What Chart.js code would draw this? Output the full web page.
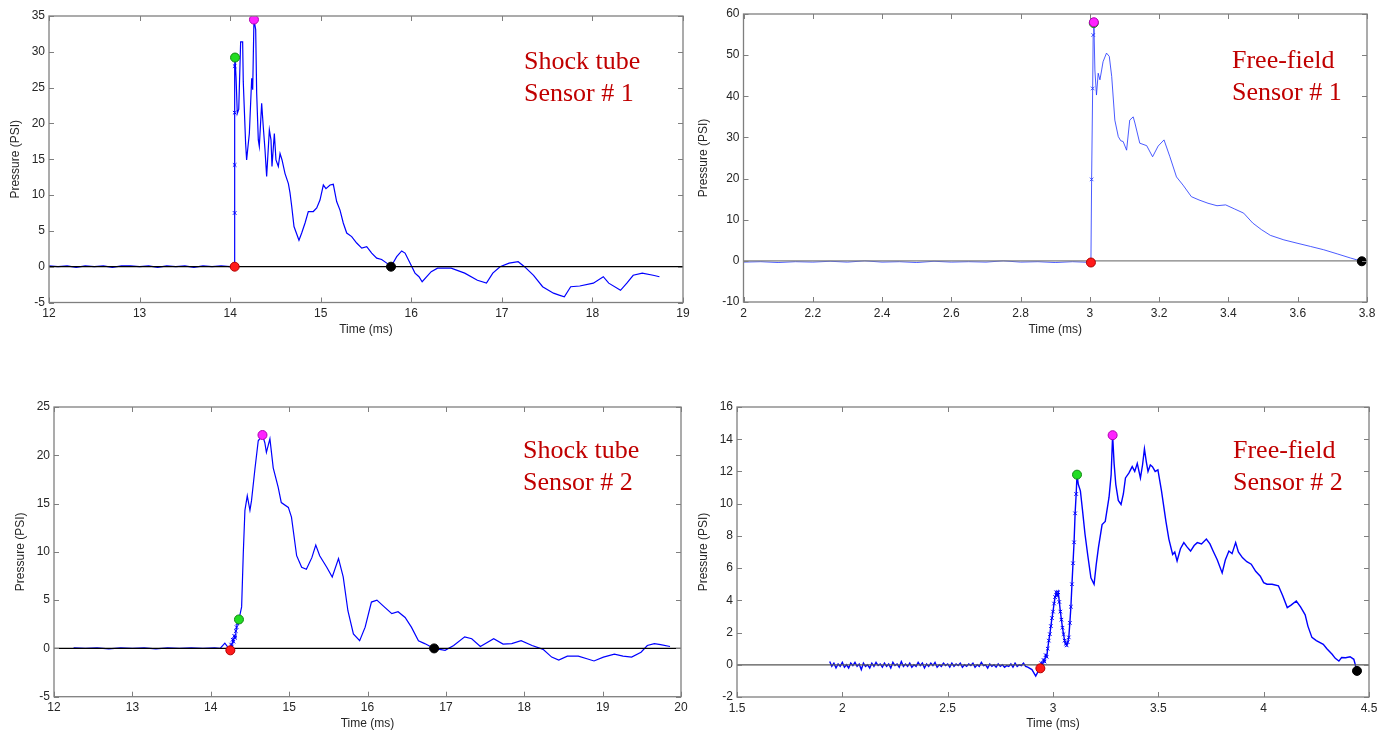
<!DOCTYPE html>
<html>
<head>
<meta charset="utf-8">
<title>Pressure traces</title>
<script src="https://cdn.jsdelivr.net/npm/chart.js@4.4.1/dist/chart.umd.min.js"></script>
<style>
  html, body { margin: 0; padding: 0; background: #fff; }
  #page { position: relative; width: 1393px; height: 732px; overflow: hidden; }
  canvas { position: absolute; }
  .tag {
    position: absolute;
    font-family: "Liberation Serif", "Times New Roman", serif;
    font-size: 26px;
    line-height: 32px;
    color: #c00000;
    white-space: nowrap;
  }
</style>
</head>
<body>
<div id="page">
  <canvas id="shockTube1" width="700" height="345" style="left:0;top:0"></canvas>
  <canvas id="freeField1" width="703" height="345" style="left:690px;top:0"></canvas>
  <canvas id="shockTube2" width="700" height="342" style="left:0;top:390px"></canvas>
  <canvas id="freeField2" width="703" height="342" style="left:690px;top:390px"></canvas>

  <div class="tag" style="left:524px;top:45px">Shock tube<br>Sensor # 1</div>
  <div class="tag" style="left:1232px;top:44px">Free-field<br>Sensor # 1</div>
  <div class="tag" style="left:523px;top:434px">Shock tube<br>Sensor # 2</div>
  <div class="tag" style="left:1233px;top:434px">Free-field<br>Sensor # 2</div>
</div>

<script>
// [time (ms), pressure (PSI)]
var shockTube1Wave = [
  [12.00,0.1],[12.10,0.0],[12.20,0.1],[12.30,-0.1],[12.40,0.1],[12.50,0.0],[12.60,0.1],[12.70,-0.1],
  [12.80,0.1],[12.90,0.1],[13.00,0.0],[13.10,0.1],[13.20,-0.1],[13.30,0.1],[13.40,0.0],[13.50,0.1],
  [13.60,-0.1],[13.70,0.1],[13.80,0.0],[13.90,0.1],[14.00,0.0],
  [14.050,0.0],[14.050,7.5],[14.050,14.2],[14.050,21.5],[14.050,28.0],[14.054,29.2],
  [14.065,26.5],[14.079,21.4],[14.095,22.0],[14.116,31.4],[14.138,31.4],[14.145,25.8],[14.171,17.2],
  [14.182,14.9],[14.193,16.3],[14.212,18.6],[14.238,26.3],[14.249,24.7],[14.263,34.5],[14.282,33.1],
  [14.293,24.2],[14.311,17.7],[14.322,16.8],[14.348,22.8],[14.366,19.5],[14.385,16.3],[14.403,12.6],
  [14.433,19.1],[14.451,17.7],[14.462,14.0],[14.488,18.6],[14.506,14.9],[14.532,14.0],[14.551,15.8],
  [14.573,14.9],[14.606,13.0],[14.643,11.6],[14.661,10.3],[14.680,8.4],[14.705,5.6],[14.760,3.7],
  [14.790,4.7],[14.827,6.1],[14.863,7.7],[14.918,7.7],[14.956,8.2],[14.992,9.3],[15.029,11.4],
  [15.058,10.9],[15.103,11.4],[15.139,11.5],[15.176,9.1],[15.213,7.9],[15.249,6.1],[15.287,4.7],
  [15.342,4.2],[15.397,3.3],[15.453,2.6],[15.508,2.8],[15.563,1.9],[15.618,1.2],[15.673,1.0],
  [15.729,0.5],[15.776,0.0],[15.839,1.4],[15.894,2.2],[15.931,1.9],[15.986,0.5],[16.041,-0.9],
  [16.085,-1.4],[16.12,-2.1],[16.22,-0.7],[16.29,-0.2],[16.44,-0.2],[16.59,-0.9],[16.73,-1.9],
  [16.83,-2.3],[16.90,-0.9],[16.98,0.0],[17.08,0.5],[17.18,0.7],[17.25,0.0],[17.35,-1.2],
  [17.45,-2.8],[17.57,-3.7],[17.64,-4.0],[17.69,-4.2],[17.76,-2.8],[17.86,-2.7],[18.01,-2.3],
  [18.12,-1.4],[18.18,-2.3],[18.31,-3.3],[18.38,-2.3],[18.45,-1.2],[18.55,-0.9],[18.67,-1.2],[18.74,-1.4]
];
// onset, first peak, max, return to zero
var shockTube1Events = [[14.050,0.0],[14.054,29.2],[14.263,34.5],[15.776,0.0]];

var freeField1Wave = [
  [2.00,-0.3],[2.05,-0.2],[2.10,-0.4],[2.15,-0.2],[2.20,-0.3],[2.25,-0.1],[2.30,-0.3],[2.35,0.0],
  [2.40,-0.3],[2.45,-0.2],[2.50,-0.4],[2.55,-0.1],[2.60,-0.3],[2.65,-0.2],[2.70,-0.3],[2.75,0.0],
  [2.80,-0.3],[2.85,-0.2],[2.90,-0.4],[2.95,-0.2],[2.98,-0.3],
  [3.003,-0.4],[3.005,19.8],[3.008,41.9],[3.0095,54.9],[3.0115,58.0],
  [3.0144,46.4],[3.019,40.3],[3.024,45.6],[3.029,44.0],[3.034,46.4],[3.038,48.4],[3.048,50.5],
  [3.056,49.7],[3.063,44.8],[3.072,34.2],[3.082,30.2],[3.089,29.2],[3.096,29.0],[3.106,26.9],
  [3.115,34.2],[3.125,35.0],[3.130,33.5],[3.144,28.6],[3.164,28.0],[3.181,25.3],[3.197,27.9],
  [3.214,29.4],[3.231,25.3],[3.250,20.4],[3.269,18.4],[3.293,15.6],[3.315,14.8],[3.341,14.0],
  [3.367,13.4],[3.392,13.6],[3.418,12.6],[3.444,11.6],[3.470,9.2],[3.495,7.6],[3.521,6.2],
  [3.560,5.1],[3.598,4.3],[3.637,3.5],[3.675,2.7],[3.714,1.7],[3.752,0.7],[3.785,-0.1]
];
var freeField1Events = [[3.003,-0.4],[3.0112,57.8],[3.0115,58.0],[3.785,-0.1]];

var shockTube2Wave = [
  [12.25,0.05],[12.40,0.0],[12.55,0.05],[12.70,-0.05],[12.85,0.05],[13.00,0.0],[13.15,0.05],
  [13.30,-0.05],[13.45,0.05],[13.60,0.0],[13.75,0.05],[13.90,0.0],[14.05,0.05],[14.12,0.0],
  [14.18,0.55],[14.22,0.1],
  [14.25,-0.2],[14.26,0.4],[14.27,0.2],[14.28,0.9],[14.29,0.7],[14.30,1.3],[14.31,1.1],[14.32,1.8],
  [14.33,2.2],[14.34,2.6],[14.35,2.8],[14.36,3.0],
  [14.394,4.3],[14.415,9.8],[14.436,14.3],[14.466,15.8],[14.50,14.3],[14.52,15.3],[14.564,18.6],
  [14.606,21.5],[14.66,22.1],[14.69,21.3],[14.71,20.3],[14.755,21.7],[14.797,18.7],[14.86,16.7],
  [14.90,15.1],[14.99,14.6],[15.03,13.6],[15.096,9.6],[15.16,8.4],[15.22,8.2],[15.29,9.4],
  [15.34,10.7],[15.39,9.6],[15.48,8.4],[15.55,7.4],[15.63,9.3],[15.69,7.4],[15.75,3.9],[15.82,1.5],
  [15.90,0.8],[15.97,2.2],[16.05,4.8],[16.12,5.0],[16.20,4.4],[16.31,3.6],[16.39,3.8],[16.48,3.2],
  [16.56,2.2],[16.65,0.8],[16.73,0.5],[16.85,0.0],[16.99,-0.2],[17.10,0.3],[17.24,1.2],[17.33,1.0],
  [17.44,0.2],[17.61,1.0],[17.73,0.45],[17.84,0.5],[17.96,0.8],[18.10,0.3],[18.24,-0.1],[18.35,-0.9],
  [18.44,-1.2],[18.55,-0.8],[18.69,-0.8],[18.81,-1.1],[18.89,-1.3],[19.01,-0.9],[19.15,-0.6],
  [19.26,-0.8],[19.37,-0.9],[19.49,-0.4],[19.57,0.3],[19.66,0.5],[19.74,0.4],[19.86,0.2]
];
var shockTube2Events = [[14.25,-0.2],[14.36,3.0],[14.66,22.1],[16.85,0.0]];

var freeField2Wave = [
  [1.940,0.2],[1.950,-0.1],[1.960,0.1],[1.970,-0.2],[1.980,0.05],[1.990,-0.1],[2.000,0.15],
  [2.010,-0.15],[2.020,0.0],[2.030,-0.2],[2.040,0.1],[2.050,-0.05],[2.060,0.15],[2.070,-0.1],
  [2.080,0.05],[2.090,-0.3],[2.100,0.1],[2.110,-0.1],[2.120,0.0],[2.130,-0.2],[2.140,0.1],
  [2.150,-0.1],[2.160,0.15],[2.170,-0.05],[2.180,0.05],[2.190,-0.15],[2.200,0.1],[2.210,-0.1],
  [2.220,0.05],[2.230,-0.2],[2.240,0.15],[2.250,-0.05],[2.260,0.05],[2.270,-0.15],[2.280,0.2],
  [2.290,-0.1],[2.300,0.05],[2.310,-0.1],[2.320,0.1],[2.330,-0.15],[2.340,0.0],[2.350,-0.1],
  [2.360,0.15],[2.370,-0.05],[2.380,0.1],[2.390,-0.2],[2.400,0.05],[2.410,-0.1],[2.420,0.1],
  [2.430,-0.05],[2.440,0.15],[2.450,-0.15],[2.460,0.0],[2.470,-0.1],[2.480,0.1],[2.490,-0.05],
  [2.500,0.05],[2.510,-0.15],[2.520,0.1],[2.530,-0.1],[2.540,0.05],[2.550,-0.05],[2.560,0.1],
  [2.570,-0.15],[2.580,0.0],[2.590,-0.1],[2.600,0.05],[2.610,-0.05],[2.620,0.1],[2.630,-0.15],
  [2.640,0.0],[2.650,-0.1],[2.660,0.15],[2.670,-0.05],[2.680,0.0],[2.690,-0.2],[2.700,0.05],
  [2.710,-0.1],[2.720,0.0],[2.730,-0.15],[2.740,0.05],[2.750,-0.1],[2.760,0.0],[2.770,-0.15],
  [2.780,-0.05],[2.790,-0.1],[2.800,0.05],[2.810,-0.15],[2.820,0.1],[2.830,-0.1],[2.840,0.0],
  [2.850,-0.05],[2.860,0.1],[2.870,-0.1],[2.880,-0.15],[2.900,-0.3],[2.918,-0.7],[2.930,-0.4],
  [2.940,-0.22],[2.945,0.1],[2.950,-0.1],[2.955,0.3],[2.960,0.2],[2.965,0.6],[2.970,0.5],
  [2.975,1.0],[2.980,1.5],[2.985,1.9],[2.990,2.4],[2.995,2.9],[3.000,3.3],[3.005,3.8],[3.010,4.2],
  [3.015,4.5],[3.020,4.3],[3.025,4.5],[3.030,3.9],[3.035,3.3],[3.040,2.8],[3.045,2.3],[3.050,1.9],
  [3.055,1.5],[3.060,1.3],[3.065,1.2],[3.070,1.4],[3.075,1.7],[3.080,2.6],[3.085,3.6],[3.090,5.0],
  [3.095,6.3],[3.100,7.6],[3.105,9.4],[3.110,10.6],[3.114,11.8],
  [3.120,11.2],[3.130,10.8],[3.140,9.6],[3.152,8.1],[3.165,6.8],[3.180,5.4],[3.195,5.0],[3.205,6.2],
  [3.216,7.3],[3.233,8.7],[3.248,8.9],[3.266,10.4],[3.276,11.8],[3.283,14.25],[3.290,12.5],
  [3.298,11.2],[3.310,10.2],[3.323,9.95],[3.334,10.6],[3.344,11.6],[3.360,11.9],[3.376,12.3],
  [3.388,12.0],[3.400,12.5],[3.415,11.6],[3.425,12.4],[3.434,13.4],[3.443,12.6],[3.451,12.0],
  [3.462,12.4],[3.472,12.3],[3.485,12.0],[3.498,12.1],[3.515,10.8],[3.536,8.9],[3.550,7.8],
  [3.568,6.85],[3.578,7.0],[3.589,6.44],[3.605,7.2],[3.621,7.58],[3.637,7.3],[3.653,7.06],
  [3.670,7.4],[3.685,7.58],[3.705,7.5],[3.728,7.8],[3.745,7.5],[3.760,7.06],[3.780,6.5],
  [3.803,5.7],[3.818,6.5],[3.835,7.06],[3.850,6.9],[3.867,7.58],[3.880,7.0],[3.899,6.65],
  [3.920,6.4],[3.941,6.24],[3.962,5.8],[3.984,5.5],[4.000,5.1],[4.016,5.0],[4.040,5.0],[4.070,4.9],
  [4.090,4.3],[4.112,3.55],[4.130,3.7],[4.155,3.96],[4.175,3.6],[4.197,3.1],[4.210,2.4],
  [4.229,1.7],[4.250,1.5],[4.283,1.27],[4.300,1.0],[4.325,0.65],[4.340,0.4],[4.357,0.23],
  [4.370,0.45],[4.389,0.44],[4.410,0.5],[4.428,0.34],[4.435,0.0],[4.443,-0.38]
];
var freeField2Events = [[2.940,-0.22],[3.114,11.8],[3.283,14.25],[4.443,-0.38]];

// red onset, green first peak, magenta max, black end
var EVENT_FILL = ['#ff1a1a', '#22dd22', '#ff22ff', '#000000'];
var EVENT_EDGE = ['#b00000', '#118811', '#b000b0', '#000000'];
var TICK_FONT = { family: 'Liberation Sans', size: 12 };

function toPoints(list) {
  return list.map(function(p) { return { x: p[0], y: p[1] }; });
}

function fmtTick(v) {
  return String(Math.round(v * 100) / 100);
}

// axes box with the tick marks pointing inwards on all four sides
var boxTicks = {
  id: 'boxTicks',
  afterDatasetsDraw: function(chart) {
    var ctx = chart.ctx, a = chart.chartArea;
    var xs = chart.scales.x, ys = chart.scales.y;
    ctx.save();
    ctx.strokeStyle = '#7f7f7f';
    ctx.lineWidth = 1;
    ctx.beginPath();
    xs.ticks.forEach(function(t) {
      var px = Math.round(xs.getPixelForValue(t.value)) + 0.5;
      ctx.moveTo(px, a.bottom); ctx.lineTo(px, a.bottom - 5);
      ctx.moveTo(px, a.top); ctx.lineTo(px, a.top + 5);
    });
    ys.ticks.forEach(function(t) {
      var py = Math.round(ys.getPixelForValue(t.value)) + 0.5;
      ctx.moveTo(a.left, py); ctx.lineTo(a.left + 5, py);
      ctx.moveTo(a.right, py); ctx.lineTo(a.right - 5, py);
    });
    ctx.stroke();
    ctx.lineWidth = 1.3;
    ctx.strokeRect(a.left, a.top, a.right - a.left, a.bottom - a.top);
    ctx.restore();
  }
};

function drawPanel(id, o) {
  var riseMark = function(c) {
    var x = c.raw ? c.raw.x : null;
    return (x !== null && x >= o.riseFrom && x <= o.riseTo) ? 2.5 : 0;
  };
  new Chart(document.getElementById(id), {
    type: 'scatter',
    data: {
      datasets: [
        {
          data: toPoints(o.wave),
          showLine: true,
          borderColor: o.lineColor,
          borderWidth: o.lineWidth,
          pointStyle: 'crossRot',
          pointRadius: riseMark,
          pointBorderColor: o.lineColor,
          pointBorderWidth: 1,
          order: 3
        },
        {
          // zero reference
          data: [{ x: o.xMin, y: 0 }, { x: o.xMax, y: 0 }],
          showLine: true,
          borderColor: o.zeroColor,
          borderWidth: 1.2,
          pointRadius: 0,
          order: 2
        },
        {
          data: toPoints(o.events),
          pointRadius: 4.5,
          pointBackgroundColor: EVENT_FILL,
          pointBorderColor: EVENT_EDGE,
          pointBorderWidth: 1,
          order: 1
        }
      ]
    },
    options: {
      responsive: false,
      animation: false,
      events: [],
      layout: { padding: { top: o.padTop, right: o.padRight, left: 0, bottom: 0 } },
      plugins: { legend: { display: false }, tooltip: { enabled: false } },
      scales: {
        x: {
          type: 'linear',
          min: o.xMin, max: o.xMax,
          grid: { display: false, drawTicks: false },
          border: { display: false },
          ticks: { stepSize: o.xStep, color: '#262626', font: TICK_FONT, padding: 4,
                   maxRotation: 0, autoSkip: false, callback: fmtTick },
          title: { display: true, text: 'Time (ms)', color: '#262626', font: TICK_FONT,
                   padding: { top: 0, bottom: o.xTitlePad } },
          afterFit: function(s) { s.height = o.xAxisH; }
        },
        y: {
          type: 'linear',
          min: o.yMin, max: o.yMax,
          grid: { display: false, drawTicks: false },
          border: { display: false },
          ticks: { stepSize: o.yStep, color: '#262626', font: TICK_FONT, padding: 4,
                   autoSkip: false, callback: fmtTick },
          title: { display: true, text: 'Pressure (PSI)', color: '#262626', font: TICK_FONT,
                   padding: { top: o.yTitlePad, bottom: 0 } },
          afterFit: function(s) { s.width = o.yAxisW; }
        }
      }
    },
    plugins: [boxTicks]
  });
}

drawPanel('shockTube1', {
  wave: shockTube1Wave, events: shockTube1Events, riseFrom: 14.050, riseTo: 14.054,
  xMin: 12, xMax: 19, xStep: 1, yMin: -5, yMax: 35, yStep: 5,
  lineColor: '#0000ff', lineWidth: 1.2, zeroColor: '#000000',
  padTop: 16, padRight: 17, yAxisW: 49, xAxisH: 42.5, xTitlePad: 8, yTitlePad: 8
});

drawPanel('freeField1', {
  wave: freeField1Wave, events: freeField1Events, riseFrom: 3.003, riseTo: 3.0115,
  xMin: 2, xMax: 3.8, xStep: 0.2, yMin: -10, yMax: 60, yStep: 10,
  lineColor: 'rgba(30,50,255,0.8)', lineWidth: 1, zeroColor: '#808080',
  padTop: 14, padRight: 26, yAxisW: 53.5, xAxisH: 43, xTitlePad: 8, yTitlePad: 6
});

drawPanel('shockTube2', {
  wave: shockTube2Wave, events: shockTube2Events, riseFrom: 14.25, riseTo: 14.36,
  xMin: 12, xMax: 20, xStep: 1, yMin: -5, yMax: 25, yStep: 5,
  lineColor: '#0000ff', lineWidth: 1.2, zeroColor: '#000000',
  padTop: 17, padRight: 19, yAxisW: 54, xAxisH: 35.3, xTitlePad: 1.5, yTitlePad: 13
});

drawPanel('freeField2', {
  wave: freeField2Wave, events: freeField2Events, riseFrom: 2.940, riseTo: 3.114,
  xMin: 1.5, xMax: 4.5, xStep: 0.5, yMin: -2, yMax: 16, yStep: 2,
  lineColor: '#0000ff', lineWidth: 1.4, zeroColor: '#555555',
  padTop: 17, padRight: 24, yAxisW: 47, xAxisH: 35, xTitlePad: 1.5, yTitlePad: 6
});
</script>
</body>
</html>
